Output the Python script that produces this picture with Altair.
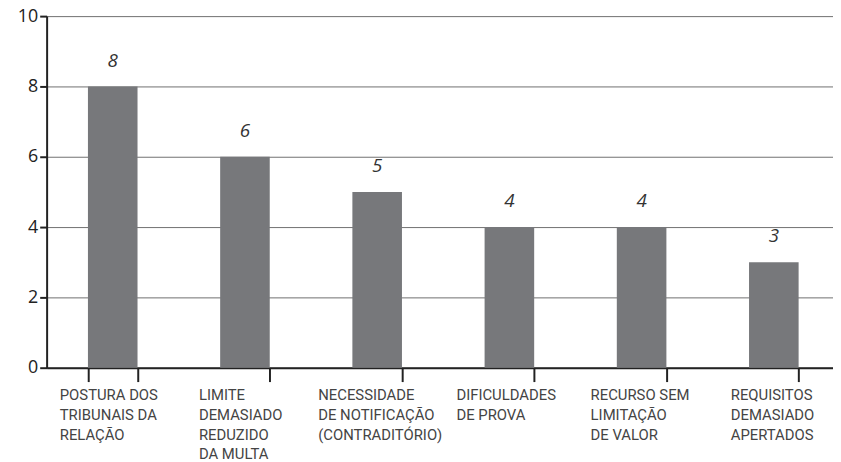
import altair as alt
import pandas as pd

categories = [
    "POSTURA DOS|TRIBUNAIS DA|RELAÇÃO",
    "LIMITE|DEMASIADO|REDUZIDO|DA MULTA",
    "NECESSIDADE|DE NOTIFICAÇÃO|(CONTRADITÓRIO)",
    "DIFICULDADES|DE PROVA",
    "RECURSO SEM|LIMITAÇÃO|DE VALOR",
    "REQUISITOS|DEMASIADO|APERTADOS",
]
values = [8, 6, 5, 4, 4, 3]
y_ticks = [0, 2, 4, 6, 8, 10]
label_shift = [-54, -47, -60, -54, -52, -44]

df = pd.DataFrame({"cat": categories, "value": values})

offset_cond = {
    "condition": [
        {"test": f"datum.value == '{c}'", "value": s}
        for c, s in zip(categories, label_shift)
    ],
    "value": -54,
}

x = alt.X(
    "cat:N",
    sort=None,
    scale=alt.Scale(range=[0, 801], paddingInner=0.625, paddingOuter=0.3125),
    axis=alt.Axis(
        title=None,
        labelExpr="split(datum.label, '|')",
        labelAlign="left",
        labelBaseline="top",
        labelOffset=offset_cond,
        labelPadding=6,
        labelAngle=0,
        labelOverlap=False,
        labelFont="Roboto",
        labelFontSize=15,
        labelLineHeight=20,
        labelColor="#444444",
        tickBand="extent",
        tickSize=14,
        tickWidth=2,
        tickColor="#222222",
        domainColor="#222222",
        domainWidth=2,
    ),
)
y = alt.Y(
    "value:Q",
    scale=alt.Scale(domain=[0, 10]),
    axis=alt.Axis(
        title=None,
        values=y_ticks,
        grid=True,
        gridColor="#6f6f6f",
        gridWidth=1,
        tickSize=7,
        tickWidth=2,
        tickColor="#222222",
        domainColor="#222222",
        domainWidth=2,
        labelFont="Open Sans",
        labelFontSize=18,
        labelColor="#222222",
        labelPadding=2,
    ),
)

base = alt.Chart(df).encode(x=x, y=y)
bars = base.mark_bar(color="#77787b")
text = base.mark_text(
    dy=-16, baseline="bottom", fontStyle="italic", fontSize=19,
    font="Open Sans", color="#333333"
).encode(text="value:Q")

chart = (
    (bars + text)
    .properties(
        width=794,
        height=355,
        autosize=alt.AutoSizeParams(type="none"),
        padding={"left": 39, "top": 6, "right": 0, "bottom": 92},
    )
    .configure_view(stroke=None)
)

chart.save("out.html", embed_options={"renderer": "svg", "actions": False})
